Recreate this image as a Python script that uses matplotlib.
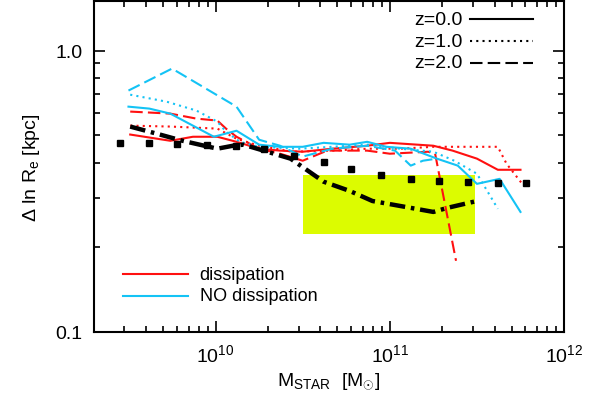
import numpy as np
import matplotlib
matplotlib.use('Agg')
import matplotlib.pyplot as plt

plt.rcParams['font.family'] = ['Liberation Sans', 'DejaVu Sans']
plt.rcParams['mathtext.fontset'] = 'custom'
plt.rcParams['mathtext.rm'] = 'Liberation Sans'
plt.rcParams['mathtext.it'] = 'Liberation Sans'

# log10(M_star) y scatter (Delta ln Re) por modelo
# dissipation (rojo)
lm_red_z0 = [9.51, 9.74, 9.87, 10.01, 10.12, 10.25, 10.37, 10.50, 10.67, 10.87, 11.00, 11.25, 11.36, 11.50, 11.62, 11.75]
dr_red_z0 = [0.503, 0.478, 0.494, 0.494, 0.474, 0.448, 0.441, 0.437, 0.448, 0.459, 0.470, 0.459, 0.441, 0.413, 0.377, 0.377]
lm_red_z1 = [9.51, 9.74, 10.01, 10.12, 10.25, 10.44, 10.67, 10.87, 11.06, 11.25, 11.38, 11.62, 11.67, 11.76]
dr_red_z1 = [0.541, 0.537, 0.528, 0.486, 0.459, 0.437, 0.441, 0.448, 0.448, 0.455, 0.455, 0.455, 0.396, 0.336]
lm_red_z2 = [9.51, 9.74, 9.89, 10.01, 10.06, 10.12, 10.25, 10.37, 10.50, 10.64, 10.87, 11.00, 11.22, 11.26, 11.38]
dr_red_z2 = [0.607, 0.597, 0.573, 0.564, 0.528, 0.494, 0.448, 0.430, 0.406, 0.441, 0.441, 0.430, 0.437, 0.430, 0.179]

# NO dissipation (azul)
lm_blu_z0 = [9.50, 9.62, 9.74, 9.87, 9.99, 10.12, 10.25, 10.37, 10.50, 10.62, 10.77, 10.87, 10.98, 11.12, 11.27, 11.39, 11.50, 11.63, 11.75]
dr_blu_z0 = [0.632, 0.622, 0.597, 0.541, 0.494, 0.519, 0.463, 0.455, 0.455, 0.470, 0.463, 0.474, 0.455, 0.448, 0.413, 0.390, 0.336, 0.350, 0.267]
lm_blu_z1 = [9.51, 9.72, 9.89, 10.01, 10.06, 10.14, 10.25, 10.48, 10.67, 10.87, 11.06, 11.25, 11.37, 11.50, 11.62]
dr_blu_z1 = [0.697, 0.658, 0.612, 0.559, 0.515, 0.474, 0.455, 0.448, 0.455, 0.463, 0.448, 0.437, 0.406, 0.365, 0.274]
lm_blu_z2 = [9.50, 9.75, 10.12, 10.25, 10.37, 10.50, 10.67, 10.87, 11.03, 11.12, 11.19, 11.27]
dr_blu_z2 = [0.721, 0.863, 0.632, 0.482, 0.459, 0.420, 0.448, 0.459, 0.441, 0.390, 0.406, 0.413]

# curva negra z=2
lm_blk = [9.51, 9.66, 9.81, 10.01, 10.10, 10.16, 10.43, 10.62, 10.77, 10.90, 11.25, 11.33, 11.50]
dr_blk = [0.537, 0.507, 0.478, 0.448, 0.459, 0.463, 0.413, 0.342, 0.317, 0.292, 0.267, 0.276, 0.292]

# puntos observados
lm_obs = [9.45, 9.62, 9.78, 9.95, 10.12, 10.28, 10.45, 10.62, 10.78, 10.95, 11.12, 11.28, 11.45, 11.62, 11.78]
dr_obs = [0.470, 0.470, 0.467, 0.463, 0.459, 0.448, 0.423, 0.403, 0.380, 0.362, 0.350, 0.345, 0.342, 0.339, 0.339]

# caja amarilla: rango en masa y scatter
caja_lm = [10.50, 11.49]
caja_dr = [0.223, 0.362]

rojo = '#ff1010'
azul = '#14c3f5'
dots = (0, (1, 2))
dashes = (0, (6, 2.5))

fig = plt.figure(figsize=(5.9, 4.1), dpi=100)
ax = fig.add_axes([0.159, 0.188, 0.797, 0.807])

ax.fill_between(10**np.array(caja_lm), caja_dr[0], caja_dr[1], color='#dcfc00', lw=0, zorder=1)

def p(lm, dr, **kw):
    ax.plot(10**np.array(lm), dr, **kw)

p(lm_red_z0, dr_red_z0, color=rojo, lw=1.5, zorder=3)
p(lm_red_z1, dr_red_z1, color=rojo, lw=1.5, ls=dots, zorder=3)
p(lm_red_z2, dr_red_z2, color=rojo, lw=1.5, ls=dashes, zorder=3)
p(lm_blu_z0, dr_blu_z0, color=azul, lw=1.5, zorder=3)
p(lm_blu_z1, dr_blu_z1, color=azul, lw=1.5, ls=dots, zorder=3)
p(lm_blu_z2, dr_blu_z2, color=azul, lw=1.5, ls=dashes, zorder=3)
p(lm_blk, dr_blk, color='black', lw=3.2, ls=(0, (3.5, 1.3, 0.8, 1.3)), zorder=4)
ax.plot(10**np.array(lm_obs), dr_obs, 's', color='black', ms=4.5, zorder=5)

ax.set_xscale('log')
ax.set_yscale('log')
ax.set_xlim(2e9, 1e12)
ax.set_ylim(0.1, 1.5)
ax.set_yticks([0.1, 1.0])
ax.set_yticklabels(['0.1', '1.0'])
ax.tick_params(which='both', direction='in', top=True, right=True, labelsize=14, width=1.2)
ax.tick_params(which='major', length=8, pad=8)
ax.tick_params(which='minor', length=4)
ax.tick_params(axis='y', which='minor', labelleft=False)
for s in ax.spines.values():
    s.set_linewidth(1.5)

ax.set_xlabel(r'M$_{\mathregular{STAR}}$  [M$_{\odot}$]', fontsize=14, labelpad=4)
ax.set_ylabel(r'$\Delta$ ln R$_{\mathregular{e}}$ [kpc]', fontsize=14, labelpad=10)

# leyenda z (arriba derecha)
for i, (lab, ls) in enumerate([('z=0.0', '-'), ('z=1.0', dots), ('z=2.0', dashes)]):
    y = 0.945 - i * 0.066
    ax.text(0.785, y, lab, transform=ax.transAxes, fontsize=14, ha='right', va='center')
    ax.plot([0.8, 0.935], [y, y], transform=ax.transAxes, color='black', lw=1.5, ls=ls)

# leyenda modelos (abajo izquierda)
for i, (lab, c) in enumerate([('dissipation', rojo), ('NO dissipation', azul)]):
    y = 0.175 - i * 0.066
    ax.plot([0.062, 0.2], [y, y], transform=ax.transAxes, color=c, lw=1.5)
    ax.text(0.225, y, lab, transform=ax.transAxes, fontsize=13, va='center')

fig.savefig('out.png', dpi=100)
